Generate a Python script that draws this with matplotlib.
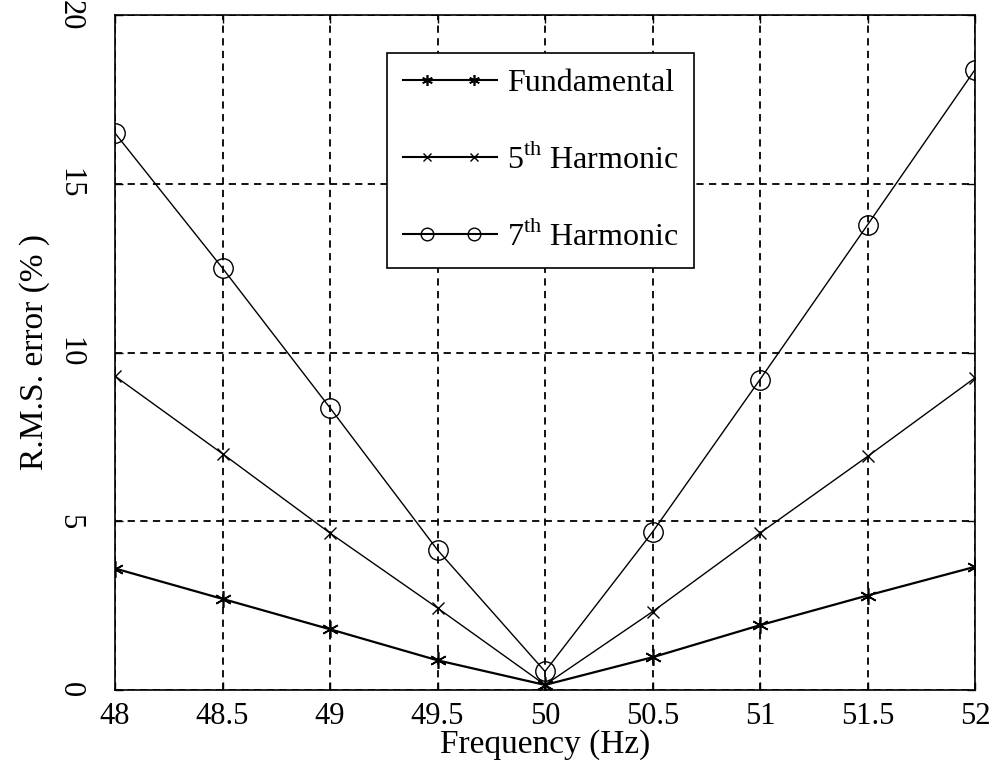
import matplotlib
matplotlib.use("Agg")
import matplotlib.pyplot as plt
from matplotlib.legend_handler import HandlerLine2D
from matplotlib.lines import Line2D

plt.rcParams['font.family'] = ['Liberation Serif', 'DejaVu Serif']
plt.rcParams['mathtext.fontset'] = 'custom'
plt.rcParams['mathtext.rm'] = 'Liberation Serif'

# values
freq = [48, 48.5, 49, 49.5, 50, 50.5, 51, 51.5, 52]
fundamental = [3.6, 2.7, 1.8, 0.88, 0.15, 0.97, 1.92, 2.8, 3.65]
harmonic5 = [9.3, 7.0, 4.65, 2.43, 0.15, 2.32, 4.65, 6.92, 9.25]
harmonic7 = [16.5, 12.5, 8.36, 4.15, 0.55, 4.68, 9.2, 13.78, 18.38]

x_ticks = [48, 48.5, 49, 49.5, 50, 50.5, 51, 51.5, 52]
x_tick_labels = ['48', '48.5', '49', '49.5', '50', '50.5', '51', '51.5', '52']
y_ticks = [0, 5, 10, 15, 20]


class FullLineHandler(HandlerLine2D):
    """Legend entry like MATLAB: line across the whole handle, two markers inside it."""

    def create_artists(self, legend, orig_handle, xdescent, ydescent,
                       width, height, fontsize, trans):
        y = (height - ydescent) / 2.0
        line = Line2D([-xdescent, width - xdescent], [y, y])
        self.update_prop(line, orig_handle, legend)
        line.set_marker('None')
        line.set_linewidth(1.5)
        xm = [-xdescent + width * 0.25, -xdescent + width * 0.75]
        marks = Line2D(xm, [y, y])
        self.update_prop(marks, orig_handle, legend)
        marks.set_linestyle('None')
        marks.set_markersize(orig_handle.get_markersize() * legend.markerscale)
        line.set_transform(trans)
        marks.set_transform(trans)
        return [line, marks]


fig = plt.figure(figsize=(9.91, 7.83), dpi=100)
ax = fig.add_axes([115 / 991, 1 - 690 / 783, 860 / 991, 675 / 783])

asterisk = (6, 2, 0)
l1, = ax.plot(freq, fundamental, color='black', lw=1.6, marker=asterisk,
              ms=12, mew=1.2, label='Fundamental')
l2, = ax.plot(freq, harmonic5, color='black', lw=1.0, marker='x',
              ms=9, mew=1.0, label='5$^{\\rm th}$ Harmonic')
l3, = ax.plot(freq, harmonic7, color='black', lw=1.0, marker='o',
              ms=14, mew=1.0, mfc='none', label='7$^{\\rm th}$ Harmonic')

ax.set_xlim(48, 52)
ax.set_ylim(0, 20)
ax.set_xticks(x_ticks)
ax.set_xticklabels(x_tick_labels)
ax.set_yticks(y_ticks)
ax.set_yticklabels([str(v) for v in y_ticks], rotation=-90, va='center')

ax.grid(True, color='black', linestyle=(0, (4, 3)), linewidth=1.3)
ax.tick_params(direction='in', top=True, right=True, length=6, width=1,
               labelsize=22)
ax.tick_params(axis='x', pad=9)
ax.tick_params(axis='y', pad=22)
for s in ax.spines.values():
    s.set_linewidth(1.2)

ax.set_xlabel('Frequency (Hz)', fontsize=24, labelpad=-2)
ax.set_ylabel('R.M.S. error (% )', fontsize=24, labelpad=4)

hm = FullLineHandler()
leg = ax.legend(handles=[l1, l2, l3], loc='upper left',
                bbox_to_anchor=(387 / 991, 1 - 53 / 783),
                bbox_transform=fig.transFigure, borderaxespad=0,
                fontsize=23, handlelength=2.95, markerscale=0.65,
                handletextpad=0.3, labelspacing=1.4, borderpad=0.5,
                fancybox=False, framealpha=1, edgecolor='black',
                handler_map={l1: hm, l2: hm, l3: hm})
leg.get_frame().set_linewidth(1.2)

fig.savefig('out.png', dpi=100)
